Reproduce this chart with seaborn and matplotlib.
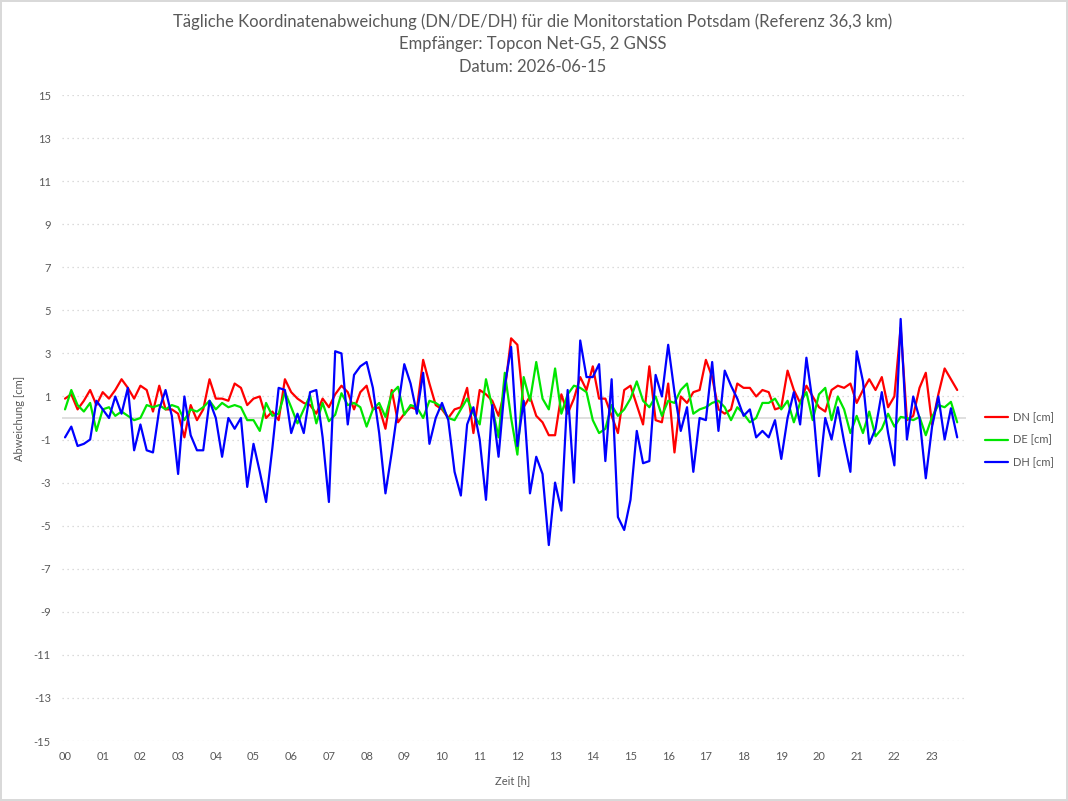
import numpy as np
import pandas as pd
import matplotlib
matplotlib.use("Agg")
import matplotlib.pyplot as plt
import seaborn as sns

# 10-minute values, 00:00 .. 23:40
dn = [0.9, 1.1, 0.4, 0.8, 1.3, 0.6, 1.2, 0.9, 1.3, 1.8, 1.4, 0.9, 1.5, 1.3, 0.3, 1.5, 0.4, 0.4, 0.2,
      -0.9, 0.6, -0.1, 0.4, 1.8, 0.9, 0.9, 0.8, 1.6, 1.4, 0.6, 0.9, 1.0, 0.0, 0.3, -0.1, 1.8, 1.2,
      0.9, 0.7, 0.6, 0.2, 0.9, 0.5, 1.1, 1.5, 1.2, 0.4, 1.2, 1.5, 0.4, 0.5, -0.5, 1.3, -0.2, 0.2,
      0.5, 0.4, 2.7, 1.6, 0.6, 0.4, 0.0, 0.4, 0.5, 1.4, -0.7, 1.3, 1.1, 0.8, 0.1, 1.3, 3.7, 3.4,
      0.5, 1.0, 0.1, -0.2, -0.8, -0.8, 1.1, 0.2, 0.9, 1.9, 1.3, 2.4, 0.9, 0.9, 0.1, -0.7, 1.3, 1.5,
      0.6, -0.3, 2.4, -0.1, -0.2, 1.6, -1.6, 1.0, 0.7, 1.2, 1.3, 2.7, 1.9, 0.4, 0.2, 0.4, 1.6, 1.4,
      1.4, 1.0, 1.3, 1.2, 0.4, 0.5, 2.2, 1.3, 0.7, 1.5, 1.0, 0.5, 0.3, 1.3, 1.5, 1.4, 1.6, 0.7,
      1.3, 1.8, 1.3, 1.9, 0.5, 1.0, 4.2, -0.1, 0.1, 1.4, 2.1, -0.3, 1.1, 2.3, 1.8, 1.3]

de = [0.4, 1.3, 0.6, 0.3, 0.7, -0.6, 0.4, 0.5, 0.1, 0.3, 0.1, -0.1, 0.0, 0.6, 0.5, 0.6, 0.4, 0.6, 0.5,
      -0.1, 0.4, 0.3, 0.5, 0.8, 0.4, 0.7, 0.5, 0.6, 0.5, -0.1, -0.1, -0.6, 0.7, 0.1, 0.2, 1.2, 0.5,
      -0.25, 0.4, 1.05, -0.25, 0.7, -0.15, 0.15, 1.15, 0.6, 0.7, 0.5, -0.4, 0.4, 0.7, 0.05, 1.15, 1.45, 0.15,
      0.6, 0.5, 0.0, 0.8, 0.7, 0.5, 0.0, -0.1, 0.4, 0.9, 0.2, -0.3, 1.8, 0.5, -0.9, 2.1, 0.0, -1.7,
      1.9, 0.8, 2.6, 0.9, 0.4, 2.3, 0.2, 1.1, 1.5, 1.4, 1.2, -0.1, -0.7, -0.5, 0.6, 0.1, 0.4, 0.9,
      1.7, 0.8, 0.5, 1.0, 0.1, 0.8, 0.7, 1.3, 1.6, 0.2, 0.4, 0.5, 0.7, 0.8, 0.5, -0.1, 0.5, 0.2,
      -0.2, 0.0, 0.7, 0.7, 0.9, 0.4, 0.8, -0.2, 0.7, 1.2, -0.1, 1.1, 1.4, -0.1, 1.0, 0.4, -0.7, 0.1,
      -0.7, 0.3, -0.85, -0.5, 0.2, -0.4, 0.05, 0.0, -0.1, 0.05, -0.8, 0.05, 0.6, 0.5, 0.75, -0.2]

dh = [-0.9, -0.4, -1.3, -1.2, -1.0, 0.8, 0.4, 0.0, 1.0, 0.2, 1.4, -1.5, -0.3, -1.5, -1.6, 0.4, 1.3, 0.1, -2.6,
      1.0, -0.8, -1.5, -1.5, 0.8, 0.0, -1.8, 0.0, -0.5, 0.0, -3.2, -1.2, -2.5, -3.9, -1.4, 1.4, 1.3, -0.7,
      0.2, -0.7, 1.2, 1.3, -0.9, -3.9, 3.1, 3.0, -0.3, 2.0, 2.4, 2.6, 1.4, -0.7, -3.5, -1.6, 0.5, 2.5,
      1.6, 0.2, 2.1, -1.2, 0.0, 0.7, -0.1, -2.5, -3.6, -0.3, 0.5, -1.0, -3.8, 0.6, -1.8, 1.5, 3.3, -1.3,
      0.8, -3.5, -1.8, -2.6, -5.9, -3.0, -4.3, 1.3, -3.0, 3.6, 1.9, 1.9, 2.5, -2.0, 1.8, -4.6, -5.2, -3.8,
      -0.6, -2.1, -2.0, 2.0, 1.0, 3.4, 1.2, -0.6, 0.5, -2.5, 0.0, -0.1, 2.6, -0.6, 2.2, 1.5, 0.9, 0.1,
      0.4, -0.9, -0.6, -0.9, -0.1, -1.9, 0.0, 1.2, -0.3, 2.8, 0.7, -2.7, 0.0, -1.0, 0.5, -1.1, -2.5, 3.1,
      1.7, -1.2, -0.5, 1.2, -0.7, -2.2, 4.6, -1.0, 1.0, 0.0, -2.8, -0.4, 1.0, -1.0, 0.45, -0.9]

series_names = ["DN [cm]", "DE [cm]", "DH [cm]"]
series_colors = ["#ff0000", "#00e600", "#0000ff"]
hour_labels = [f"{h:02d}" for h in range(24)]
y_ticks = list(range(-15, 16, 2))

title_lines = ["Tägliche Koordinatenabweichung (DN/DE/DH) für die Monitorstation Potsdam (Referenz 36,3 km)",
               "Empfänger: Topcon Net-G5, 2 GNSS",
               "Datum: 2026-06-15"]

# long format for seaborn
t_hours = np.arange(len(dn)) * 10 / 60
df = pd.concat([pd.DataFrame({"Zeit": t_hours, "Wert": vals, "Serie": name})
                for name, vals in zip(series_names, [dn, de, dh])], ignore_index=True)

sns.set_theme(style="white")
plt.rcParams["font.family"] = ["Lato", "DejaVu Sans"]
plt.rcParams["axes.unicode_minus"] = False
grey = "#595959"

fig = plt.figure(figsize=(10.68, 8.01), dpi=100, edgecolor="#d9d9d9", linewidth=1.5)
ax = fig.add_axes([62 / 1068, 1 - 741 / 801, (966 - 62) / 1068, (741 - 95) / 801])

sns.lineplot(data=df, x="Zeit", y="Wert", hue="Serie", palette=series_colors,
             hue_order=series_names, linewidth=1.6, ax=ax, legend=True)

ax.set_xlim(-0.08, 23.9)
ax.set_ylim(-15, 15)
ax.set_xticks(range(24))
ax.set_xticklabels(hour_labels)
ax.set_yticks(y_ticks)
for v in y_ticks:
    ax.axhline(v, color="#d0d0d0", lw=0.9, ls=(0, (1, 3)), zorder=0)
ax.axhline(0, color="#d9d9d9", lw=1.2, zorder=0.5)
for s in ax.spines.values():
    s.set_visible(False)
ax.tick_params(length=0, labelsize=8, labelcolor=grey)
ax.tick_params(axis="y", pad=8)
ax.tick_params(axis="x", pad=7)

ax.set_xlabel("Zeit [h]", fontsize=8, color=grey)
ax.set_ylabel("Abweichung [cm]", fontsize=8, color=grey)
ax.xaxis.set_label_coords(0.498, -0.053)
ax.yaxis.set_label_coords(-0.041, 0.5)

handles, labels = ax.get_legend_handles_labels()
ax.legend(handles, labels, loc="center left", bbox_to_anchor=(985 / 1068, 1 - 440 / 801),
          bbox_transform=fig.transFigure, frameon=False, fontsize=8, labelcolor=grey,
          handlelength=2.1, handletextpad=0.4, labelspacing=1.0, borderpad=0, borderaxespad=0)

for y_px, line in zip([22, 44, 67], title_lines):
    fig.text(532.5 / 1068, 1 - y_px / 801, line, ha="center", va="center", fontsize=12, color=grey)

fig.savefig("out.png", dpi=100, edgecolor=fig.get_edgecolor())
